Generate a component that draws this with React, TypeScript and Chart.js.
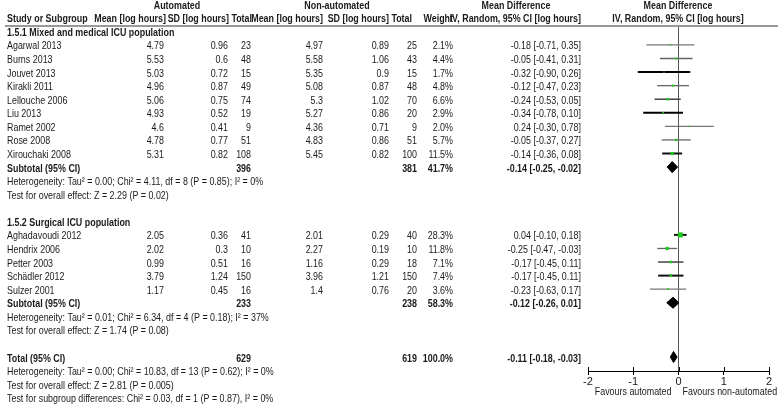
import { useEffect, useRef } from "react";
import { Chart, registerables } from "chart.js";

Chart.register(...registerables);

// ---------- data ----------
const group1Title = "1.5.1 Mixed and medical ICU population";
const group1Studies = ["Agarwal 2013", "Burns 2013", "Jouvet 2013", "Kirakli 2011", "Lellouche 2006", "Liu 2013", "Ramet 2002", "Rose 2008", "Xirouchaki 2008"];
const group1AutoMean = ["4.79", "5.53", "5.03", "4.96", "5.06", "4.93", "4.6", "4.78", "5.31"];
const group1AutoSD = ["0.96", "0.6", "0.72", "0.87", "0.75", "0.52", "0.41", "0.77", "0.82"];
const group1AutoN = [23, 48, 15, 49, 74, 19, 9, 51, 108];
const group1NonMean = ["4.97", "5.58", "5.35", "5.08", "5.3", "5.27", "4.36", "4.83", "5.45"];
const group1NonSD = ["0.89", "1.06", "0.9", "0.87", "1.02", "0.86", "0.71", "0.86", "0.82"];
const group1NonN = [25, 43, 15, 48, 70, 20, 9, 51, 100];
const group1Weight = [2.1, 4.4, 1.7, 4.8, 6.6, 2.9, 2.0, 5.7, 11.5];
const group1MD = [-0.18, -0.05, -0.32, -0.12, -0.24, -0.34, 0.24, -0.05, -0.14];
const group1Lo = [-0.71, -0.41, -0.9, -0.47, -0.53, -0.78, -0.3, -0.37, -0.36];
const group1Hi = [0.35, 0.31, 0.26, 0.23, 0.05, 0.1, 0.78, 0.27, 0.08];
const group1Subtotal = { autoN: 396, nonN: 381, weight: 41.7, md: -0.14, lo: -0.25, hi: -0.02 };
const group1Het = "Heterogeneity: Tau² = 0.00; Chi² = 4.11, df = 8 (P = 0.85); I² = 0%";
const group1Test = "Test for overall effect: Z = 2.29 (P = 0.02)";

const group2Title = "1.5.2 Surgical ICU population";
const group2Studies = ["Aghadavoudi 2012", "Hendrix 2006", "Petter 2003", "Schädler 2012", "Sulzer 2001"];
const group2AutoMean = ["2.05", "2.02", "0.99", "3.79", "1.17"];
const group2AutoSD = ["0.36", "0.3", "0.51", "1.24", "0.45"];
const group2AutoN = [41, 10, 16, 150, 16];
const group2NonMean = ["2.01", "2.27", "1.16", "3.96", "1.4"];
const group2NonSD = ["0.29", "0.19", "0.29", "1.21", "0.76"];
const group2NonN = [40, 10, 18, 150, 20];
const group2Weight = [28.3, 11.8, 7.1, 7.4, 3.6];
const group2MD = [0.04, -0.25, -0.17, -0.17, -0.23];
const group2Lo = [-0.1, -0.47, -0.45, -0.45, -0.63];
const group2Hi = [0.18, -0.03, 0.11, 0.11, 0.17];
const group2Subtotal = { autoN: 233, nonN: 238, weight: 58.3, md: -0.12, lo: -0.26, hi: 0.01 };
const group2Het = "Heterogeneity: Tau² = 0.01; Chi² = 6.34, df = 4 (P = 0.18); I² = 37%";
const group2Test = "Test for overall effect: Z = 1.74 (P = 0.08)";

const overallTotal = { autoN: 629, nonN: 619, weight: 100.0, md: -0.11, lo: -0.18, hi: -0.03 };
const overallHet = "Heterogeneity: Tau² = 0.00; Chi² = 10.83, df = 13 (P = 0.62); I² = 0%";
const overallTest = "Test for overall effect: Z = 2.81 (P = 0.005)";
const subgroupTest = "Test for subgroup differences: Chi² = 0.03, df = 1 (P = 0.87), I² = 0%";

const xTicks = [-2, -1, 0, 1, 2];
const favoursLeft = "Favours automated";
const favoursRight = "Favours non-automated";

// ---------- styles (not data) ----------
const ciColors = ["#777", "#666", "#000", "#666", "#444", "#000", "#777", "#666", "#111", "#111", "#666", "#444", "#111", "#777"];
const ciWidths = [1.2, 1.3, 2, 1.3, 1.5, 2, 1.2, 1.3, 2, 2, 1.3, 1.5, 2, 1.2];
const FONT = '"Liberation Sans", Arial, sans-serif';
const TEXT = "#1a1a1a";
const SX = 0.81; // horizontal condensation (narrow face)

// ---------- layout ----------
const Y_MIN = -0.47;
const Y_MAX = 25.03;
const rowG1Title = 0;
const rowG1Start = 1;
const rowG1Sub = rowG1Start + group1Studies.length;
const rowG2Title = rowG1Sub + 4;
const rowG2Start = rowG2Title + 1;
const rowG2Sub = rowG2Start + group2Studies.length;
const rowTotal = rowG2Sub + 4;
const TEXT_DY = 1.5;

const fmtCI = (md: number, lo: number, hi: number) => `${md.toFixed(2)} [${lo.toFixed(2)}, ${hi.toFixed(2)}]`;

export default function App() {
  const ref = useRef<HTMLCanvasElement | null>(null);

  useEffect(() => {
    if (!ref.current) return;

    const studies = [...group1Studies, ...group2Studies];
    const md = [...group1MD, ...group2MD];
    const lo = [...group1Lo, ...group2Lo];
    const hi = [...group1Hi, ...group2Hi];
    const weight = [...group1Weight, ...group2Weight];
    const rows = [
      ...group1Studies.map((_, i) => rowG1Start + i),
      ...group2Studies.map((_, i) => rowG2Start + i),
    ];

    const datasets: any[] = [];
    datasets.push({
      type: "scatter",
      data: [{ x: 0, y: Y_MIN }, { x: 0, y: Y_MAX }],
      showLine: true,
      borderColor: "#555",
      borderWidth: 1,
      pointRadius: 0,
      order: 5,
    });
    studies.forEach((_, k) => {
      datasets.push({
        type: "scatter",
        data: [{ x: lo[k], y: rows[k] }, { x: hi[k], y: rows[k] }],
        showLine: true,
        borderColor: ciColors[k],
        borderWidth: ciWidths[k],
        pointRadius: 0,
        order: 4,
      });
    });
    datasets.push({
      type: "scatter",
      data: studies.map((_, k) => ({ x: md[k], y: rows[k] })),
      pointStyle: "rect",
      pointRadius: weight.map((w) => (0.95 * Math.sqrt(w)) / Math.SQRT2),
      backgroundColor: "#1ec81e",
      borderWidth: 0,
      order: 1,
    });
    const diamonds = [
      { s: group1Subtotal, r: rowG1Sub },
      { s: group2Subtotal, r: rowG2Sub },
      { s: overallTotal, r: rowTotal },
    ];
    diamonds.forEach(({ s, r }) => {
      datasets.push({
        type: "scatter",
        data: [
          { x: s.lo, y: r },
          { x: s.md, y: r - 0.41 },
          { x: s.hi, y: r },
          { x: s.md, y: r + 0.41 },
          { x: s.lo, y: r },
        ],
        showLine: true,
        fill: "shape",
        tension: 0,
        borderColor: "#000",
        backgroundColor: "#000",
        borderWidth: 1,
        pointRadius: 0,
        order: 2,
      });
    });

    const textPlugin = {
      id: "forestText",
      afterDraw(chart: any) {
        const ctx = chart.ctx as CanvasRenderingContext2D;
        const ys = chart.scales.y;
        const xs = chart.scales.x;
        const Y = (r: number) => ys.getPixelForValue(r) + TEXT_DY;
        ctx.save();
        ctx.fillStyle = TEXT;
        ctx.textBaseline = "middle";

        const put = (t: string, x: number, y: number, align: CanvasTextAlign, bold = false, size = 11) => {
          ctx.save();
          ctx.font = `${bold ? "bold " : ""}${size}px ${FONT}`;
          ctx.textAlign = align;
          ctx.translate(x, y);
          ctx.scale(SX, 1);
          ctx.fillText(t, 0, 0);
          ctx.restore();
        };

        // header rule
        ctx.strokeStyle = "#999";
        ctx.lineWidth = 2;
        ctx.beginPath();
        ctx.moveTo(5, 26);
        ctx.lineTo(778, 26);
        ctx.stroke();

        // headers
        put("Automated", 177, 6, "center", true);
        put("Non-automated", 337, 6, "center", true);
        put("Mean Difference", 516, 6, "center", true);
        put("Mean Difference", 678, 6, "center", true);
        const hy = 18.5;
        put("Study or Subgroup", 7, hy, "left", true);
        put("Mean [log hours]", 166, hy, "right", true);
        put("SD [log hours]", 229, hy, "right", true);
        put("Total", 252, hy, "right", true);
        put("Mean [log hours]", 323, hy, "right", true);
        put("SD [log hours]", 389, hy, "right", true);
        put("Total", 412, hy, "right", true);
        put("Weight", 453, hy, "right", true);
        put("IV, Random, 95% CI [log hours]", 581, hy, "right", true);
        put("IV, Random, 95% CI [log hours]", 678, hy, "center", true);

        const studyRow = (name: string, am: string, asd: string, an: number, nm: string, nsd: string, nn: number, w: number, m: number, l: number, h: number, r: number) => {
          const y = Y(r);
          put(name, 7, y, "left");
          put(am, 164, y, "right");
          put(asd, 228, y, "right");
          put(String(an), 251, y, "right");
          put(nm, 323, y, "right");
          put(nsd, 389, y, "right");
          put(String(nn), 417, y, "right");
          put(`${w.toFixed(1)}%`, 453, y, "right");
          put(fmtCI(m, l, h), 581, y, "right");
        };
        const sumRow = (label: string, s: any, r: number) => {
          const y = Y(r);
          put(label, 7, y, "left", true);
          put(String(s.autoN), 251, y, "right", true);
          put(String(s.nonN), 417, y, "right", true);
          put(`${s.weight.toFixed(1)}%`, 453, y, "right", true);
          put(fmtCI(s.md, s.lo, s.hi), 581, y, "right", true);
        };

        put(group1Title, 7, Y(rowG1Title), "left", true);
        group1Studies.forEach((n, i) =>
          studyRow(n, group1AutoMean[i], group1AutoSD[i], group1AutoN[i], group1NonMean[i], group1NonSD[i], group1NonN[i], group1Weight[i], group1MD[i], group1Lo[i], group1Hi[i], rowG1Start + i)
        );
        sumRow("Subtotal (95% CI)", group1Subtotal, rowG1Sub);
        put(group1Het, 7, Y(rowG1Sub + 1), "left");
        put(group1Test, 7, Y(rowG1Sub + 2), "left");

        put(group2Title, 7, Y(rowG2Title), "left", true);
        group2Studies.forEach((n, i) =>
          studyRow(n, group2AutoMean[i], group2AutoSD[i], group2AutoN[i], group2NonMean[i], group2NonSD[i], group2NonN[i], group2Weight[i], group2MD[i], group2Lo[i], group2Hi[i], rowG2Start + i)
        );
        sumRow("Subtotal (95% CI)", group2Subtotal, rowG2Sub);
        put(group2Het, 7, Y(rowG2Sub + 1), "left");
        put(group2Test, 7, Y(rowG2Sub + 2), "left");

        sumRow("Total (95% CI)", overallTotal, rowTotal);
        put(overallHet, 7, Y(rowTotal + 1), "left");
        put(overallTest, 7, Y(rowTotal + 2), "left");
        put(subgroupTest, 7, Y(rowTotal + 3), "left");

        // tick marks above the axis
        const axisY = chart.chartArea.bottom;
        ctx.strokeStyle = "#000";
        ctx.lineWidth = 1;
        xTicks.forEach((t) => {
          const px = Math.round(xs.getPixelForValue(t)) + 0.5;
          ctx.beginPath();
          ctx.moveTo(px, axisY - 4);
          ctx.lineTo(px, axisY);
          ctx.stroke();
        });

        // favours labels
        put(favoursLeft, xs.getPixelForValue(0) - 7, 392, "right");
        put(favoursRight, xs.getPixelForValue(0) + 4, 392, "left");
        ctx.restore();
      },
    };

    const chart = new Chart(ref.current, {
      type: "scatter",
      data: { datasets },
      options: {
        animation: false,
        responsive: false,
        events: [],
        layout: { padding: { left: 588, right: 9, top: 25, bottom: 0 } },
        plugins: { legend: { display: false }, tooltip: { enabled: false } },
        scales: {
          x: {
            type: "linear",
            min: xTicks[0],
            max: xTicks[xTicks.length - 1],
            afterBuildTicks: (scale: any) => {
              scale.ticks = xTicks.map((v) => ({ value: v }));
            },
            afterFit: (scale: any) => {
              scale.height = 35;
            },
            ticks: { color: TEXT, font: { family: FONT, size: 11 }, padding: 0, maxRotation: 0 },
            grid: { display: true, drawOnChartArea: false, drawTicks: true, tickLength: 4, color: "#000" },
            border: { display: true, color: "#000", width: 1 },
          },
          y: {
            type: "linear",
            min: Y_MIN,
            max: Y_MAX,
            reverse: true,
            display: false,
          },
        },
      },
      plugins: [textPlugin],
    } as any);

    return () => chart.destroy();
  }, []);

  return (
    <div style={{ position: "fixed", left: 0, top: 0, width: 778, height: 406, background: "#fff" }}>
      <canvas ref={ref} width={778} height={406} style={{ width: 778, height: 406, display: "block" }} />
    </div>
  );
}
